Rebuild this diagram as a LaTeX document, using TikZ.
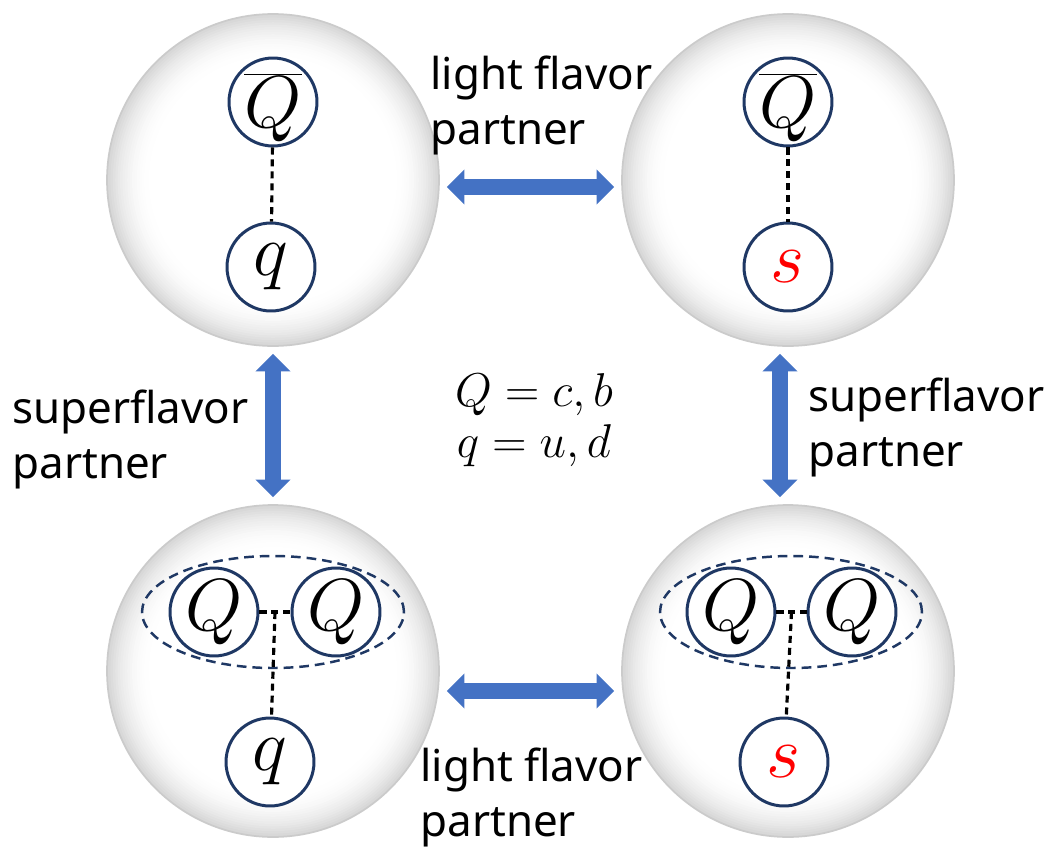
\RequirePackage{fix-cm}
\documentclass[tikz,border=0pt]{standalone}
\usepackage[no-math]{fontspec}
\newfontfamily\labelfont{Noto Sans}
\usepackage{tikz}
\usetikzlibrary{arrows.meta,positioning,shapes.geometric,calc}
\definecolor{partnerBlue}{HTML}{4472C4}
\definecolor{quarkNavy}{HTML}{1F3864}
\definecolor{ballRim}{HTML}{CBCBCB}
\definecolor{ballEdge}{HTML}{D8D8D8}
\definecolor{strangeRed}{HTML}{FF0000}
\newcommand{\antiheavy}{$\vphantom{Q}\raisebox{-4pt}{$\smash{\overline{Q}}$}$}
\tikzset{
  hadron/.style={circle, fill=ballEdge, draw=ballRim, line width=1pt, minimum size=6.64cm, inner sep=0pt,
    path picture={
      \foreach \k in {0,...,18}{
        \pgfmathtruncatemacro{\mix}{100*(1-\k/18)^2}
        \fill[ballEdge!\mix!white] (path picture bounding box.center) circle ({3.3cm-\k*0.048cm});
      }
    }},
  quark/.style={circle, draw=quarkNavy, line width=1.7pt, fill=white, minimum size=1.76cm, inner sep=0pt, font=\fontsize{42}{42}\selectfont},
  diquark/.style={ellipse, draw=quarkNavy, line width=1.4pt, dash pattern=on 5.5pt off 3.4pt, minimum width=5.24cm, minimum height=2.24cm},
  bond/.style={line width=1.8pt, dash pattern=on 4pt off 2.8pt},
  partner/.style={draw=partnerBlue, line width=9.6pt, {Triangle[width=20pt,length=10pt,line width=0pt]}-{Triangle[width=20pt,length=10pt,line width=0pt]}, shorten <=0.14cm, shorten >=0.14cm},
  tag/.style={font=\labelfont\fontsize{25}{31}\selectfont, align=left, anchor=north west, inner sep=0pt},
}
\begin{document}
\begin{tikzpicture}[x=0.02cm,y=-0.02cm]
\useasboundingbox (0,0) rectangle (1059,849);
% Hadrons
\node[hadron] (tl) at (273,180) {};
\node[hadron] (tr) at (788,180) {};
\node[hadron] (bl) at (273,671) {};
\node[hadron] (br) at (788,671) {};

% Heavy mesons
\node[quark] (tlQ) at ($(tl)+(0,-78)$) {\antiheavy};
\node[quark] (tlq) at ($(tl)+(-2,87)$) {$q$};
\node[quark] (trQ) at ($(tr)+(0,-78)$) {\antiheavy};
\node[quark] (trs) at ($(tr)+(0,87)$) {$\color{strangeRed}s$};
\draw[bond] (tlQ) -- (tlq);
\draw[bond] (trQ) -- (trs);

% Doubly heavy baryons
\node[quark] (blQa) at ($(bl)+(-59,-59)$) {$Q$};
\node[quark] (blQb) at ($(bl)+(63,-59)$) {$Q$};
\node[quark] (blq) at ($(bl)+(-3,91)$) {$q$};
\node[diquark] (bldq) at ($(bl)+(0,-59)$) {};
\coordinate (blj) at ($(blQa.east)!0.5!(blQb.west)$);
\draw[bond] (blQa) -- (blQb);
\draw[bond] (blj) -- (blq);

\node[quark] (brQa) at ($(br)+(-57,-59)$) {$Q$};
\node[quark] (brQb) at ($(br)+(64,-59)$) {$Q$};
\node[quark] (brs) at ($(br)+(-4,91)$) {$\color{strangeRed}s$};
\node[diquark] (brdq) at ($(br)+(3,-59)$) {};
\coordinate (brj) at ($(brQa.east)!0.5!(brQb.west)$);
\draw[bond] (brQa) -- (brQb);
\draw[bond] (brj) -- (brs);

% Partner arrows
\draw[partner] ([yshift=-0.14cm]tl.east) -- ([yshift=-0.14cm]tr.west);
\draw[partner] ([yshift=-0.4cm]bl.east) -- ([yshift=-0.4cm]br.west);
\draw[partner] (tl.south) -- (bl.north);
\draw[partner] ([xshift=-0.16cm]tr.south) -- ([xshift=-0.16cm]br.north);

% Labels
\node[tag] (lfTop) at (430,56) {light flavor\\partner};
\node[tag] (lfBot) at (420,748) {light flavor\\partner};
\node[tag] (sfLeft) at (12,390) {superflavor\\partner};
\node[tag] (sfRight) at (808,378) {superflavor\\partner};
\node[align=center, font=\fontsize{27}{29}\selectfont] (flav) at (534,420) {$Q=c,b$\\$q=u,d$};
\end{tikzpicture}
\end{document}
